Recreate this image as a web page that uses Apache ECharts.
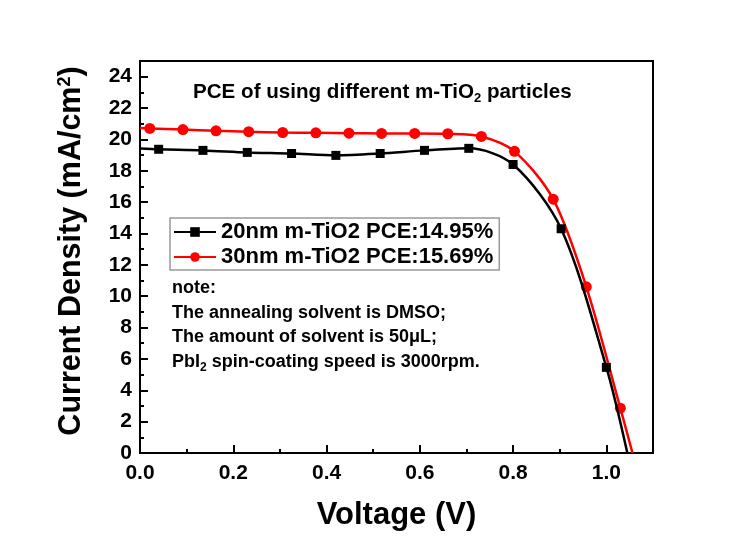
<!DOCTYPE html>
<html>
<head>
<meta charset="utf-8">
<script src="https://cdn.jsdelivr.net/npm/echarts@6/dist/echarts.min.js"></script>
<style>html,body{margin:0;padding:0;background:#fff}#c{width:739px;height:538px}</style>
</head>
<body>
<div id="c"></div>
<script>
// ---- data ----
var voltage20 = [0, 0.04, 0.135, 0.23, 0.325, 0.42, 0.515, 0.61, 0.705, 0.80, 0.903, 1.0, 1.045];
var current20 = [19.42, 19.37, 19.3, 19.17, 19.1, 18.98, 19.1, 19.3, 19.43, 18.4, 14.3, 5.46, 0];
var marker20  = [0, 1, 1, 1, 1, 1, 1, 1, 1, 1, 1, 1, 0];

var voltage30 = [0, 0.021, 0.092, 0.163, 0.233, 0.306, 0.377, 0.448, 0.518, 0.589, 0.66, 0.732, 0.803, 0.886, 0.957, 1.03, 1.056];
var current30 = [20.72, 20.7, 20.63, 20.55, 20.49, 20.44, 20.42, 20.4, 20.38, 20.38, 20.36, 20.19, 19.24, 16.19, 10.6, 2.86, 0];
var marker30  = [0, 1, 1, 1, 1, 1, 1, 1, 1, 1, 1, 1, 1, 1, 1, 1, 0];

var seriesNames = ['20nm m-TiO2 PCE:14.95%', '30nm m-TiO2 PCE:15.69%'];
var noteLines = ['note:', 'The annealing solvent is DMSO;', 'The amount of solvent is 50\u03bcL;', 'PbI{sub|2} spin-coating speed is 3000rpm.'];
var xTicks = [0, 0.2, 0.4, 0.6, 0.8, 1.0];
var yTicks = [0, 2, 4, 6, 8, 10, 12, 14, 16, 18, 20, 22, 24];
var xName = 'Voltage (V)';
var yName = 'Current Density (mA/cm{sup|2})';
var titleText = 'PCE of using different m-TiO{sub|2} particles';

function build(v, c, m) {
  return v.map(function (x, i) {
    var d = { value: [x, c[i]] };
    if (!m[i]) d.symbol = 'none';
    return d;
  });
}

var FONT = 'Liberation Sans, Arial, sans-serif';
var chart = echarts.init(document.getElementById('c'), null, { renderer: 'canvas' });

var option = {
  animation: false,
  backgroundColor: '#fff',
  grid: { left: 140, right: 86, top: 61, bottom: 85, show: true, borderColor: '#000', borderWidth: 2, containLabel: false },
  xAxis: [
    { type: 'value', min: 0, max: 1.1, interval: 0.1, position: 'bottom',
      axisLine: { lineStyle: { color: '#000', width: 2 } },
      axisTick: { inside: true, length: 4, lineStyle: { color: '#000', width: 2 } },
      axisLabel: { show: false }, splitLine: { show: false } },
    { type: 'value', min: 0, max: 1.1, interval: 0.2, position: 'bottom',
      name: xName, nameLocation: 'middle', nameGap: 47,
      nameTextStyle: { fontFamily: FONT, fontWeight: 'bold', fontSize: 31, color: '#000' },
      axisLine: { lineStyle: { color: '#000', width: 2 } },
      axisTick: { inside: true, length: 8, lineStyle: { color: '#000', width: 2 } },
      axisLabel: { showMaxLabel: false, margin: 10, fontFamily: FONT, fontWeight: 'bold', fontSize: 21, color: '#000',
        formatter: function (v) { return xTicks.indexOf(Math.round(v * 10) / 10) >= 0 ? v.toFixed(1) : ''; } },
      splitLine: { show: false } }
  ],
  yAxis: [
    { type: 'value', min: 0, max: 25, interval: 1, position: 'left',
      axisLine: { lineStyle: { color: '#000', width: 2 } },
      axisTick: { inside: true, length: 4, lineStyle: { color: '#000', width: 2 } },
      axisLabel: { show: false }, splitLine: { show: false } },
    { type: 'value', min: 0, max: 25, interval: 2, position: 'left', offset: 0,
      axisLine: { lineStyle: { color: '#000', width: 2 } },
      axisTick: { inside: true, length: 8, lineStyle: { color: '#000', width: 2 } },
      axisLabel: { showMaxLabel: false, margin: 8, fontFamily: FONT, fontWeight: 'bold', fontSize: 21, color: '#000',
        formatter: function (v) { return yTicks.indexOf(v) >= 0 ? String(v) : ''; } },
      splitLine: { show: false } }
  ],
  legend: {
    orient: 'vertical', left: 170, top: 218,
    data: seriesNames,
    itemWidth: 42, itemHeight: 12, itemGap: 3,
    padding: [3, 6, 2, 3],
    borderColor: '#999', borderWidth: 1.5, borderRadius: 0,
    textStyle: { fontFamily: FONT, fontWeight: 'bold', fontSize: 22, color: '#000' }
  },
  graphic: [
    { type: 'text', x: 72, y: 251, rotation: Math.PI / 2, z: 10,
      style: { text: yName, font: 'bold 30.5px ' + FONT, fill: '#000', align: 'center', verticalAlign: 'middle',
        rich: { sup: { font: 'bold 18px ' + FONT, fill: '#000', verticalAlign: 'top', padding: [0, 0, 14, 0] } } } },
    { type: 'text', left: 193, top: 82, z: 10,
      style: { text: titleText, font: 'bold 20.6px ' + FONT, fill: '#000',
        rich: { sub: { font: 'bold 13px ' + FONT, fill: '#000', verticalAlign: 'bottom', padding: [11, 0, 0, 0] } } } },
    { type: 'text', left: 172, top: 276, z: 10,
      style: { text: noteLines.join('\n'), font: 'bold 18px ' + FONT, fill: '#000', lineHeight: 24.5,
        rich: { sub: { font: 'bold 12px ' + FONT, fill: '#000', verticalAlign: 'bottom', lineHeight: 24.5, padding: [8, 0, 0, 0] } } } }
  ],
  series: [
    { name: seriesNames[0], type: 'line', xAxisIndex: 0, yAxisIndex: 0,
      data: build(voltage20, current20, marker20),
      smooth: 0.3,
      symbol: 'rect', symbolSize: 9,
      lineStyle: { color: '#000', width: 2.5 }, itemStyle: { color: '#000' },
      clip: true, z: 3 },
    { name: seriesNames[1], type: 'line', xAxisIndex: 0, yAxisIndex: 0,
      data: build(voltage30, current30, marker30),
      smooth: 0.3,
      symbol: 'circle', symbolSize: 11,
      lineStyle: { color: '#f00', width: 2.5 }, itemStyle: { color: '#f00' },
      clip: true, z: 2 }
  ]
};
chart.setOption(option);
</script>
</body>
</html>
